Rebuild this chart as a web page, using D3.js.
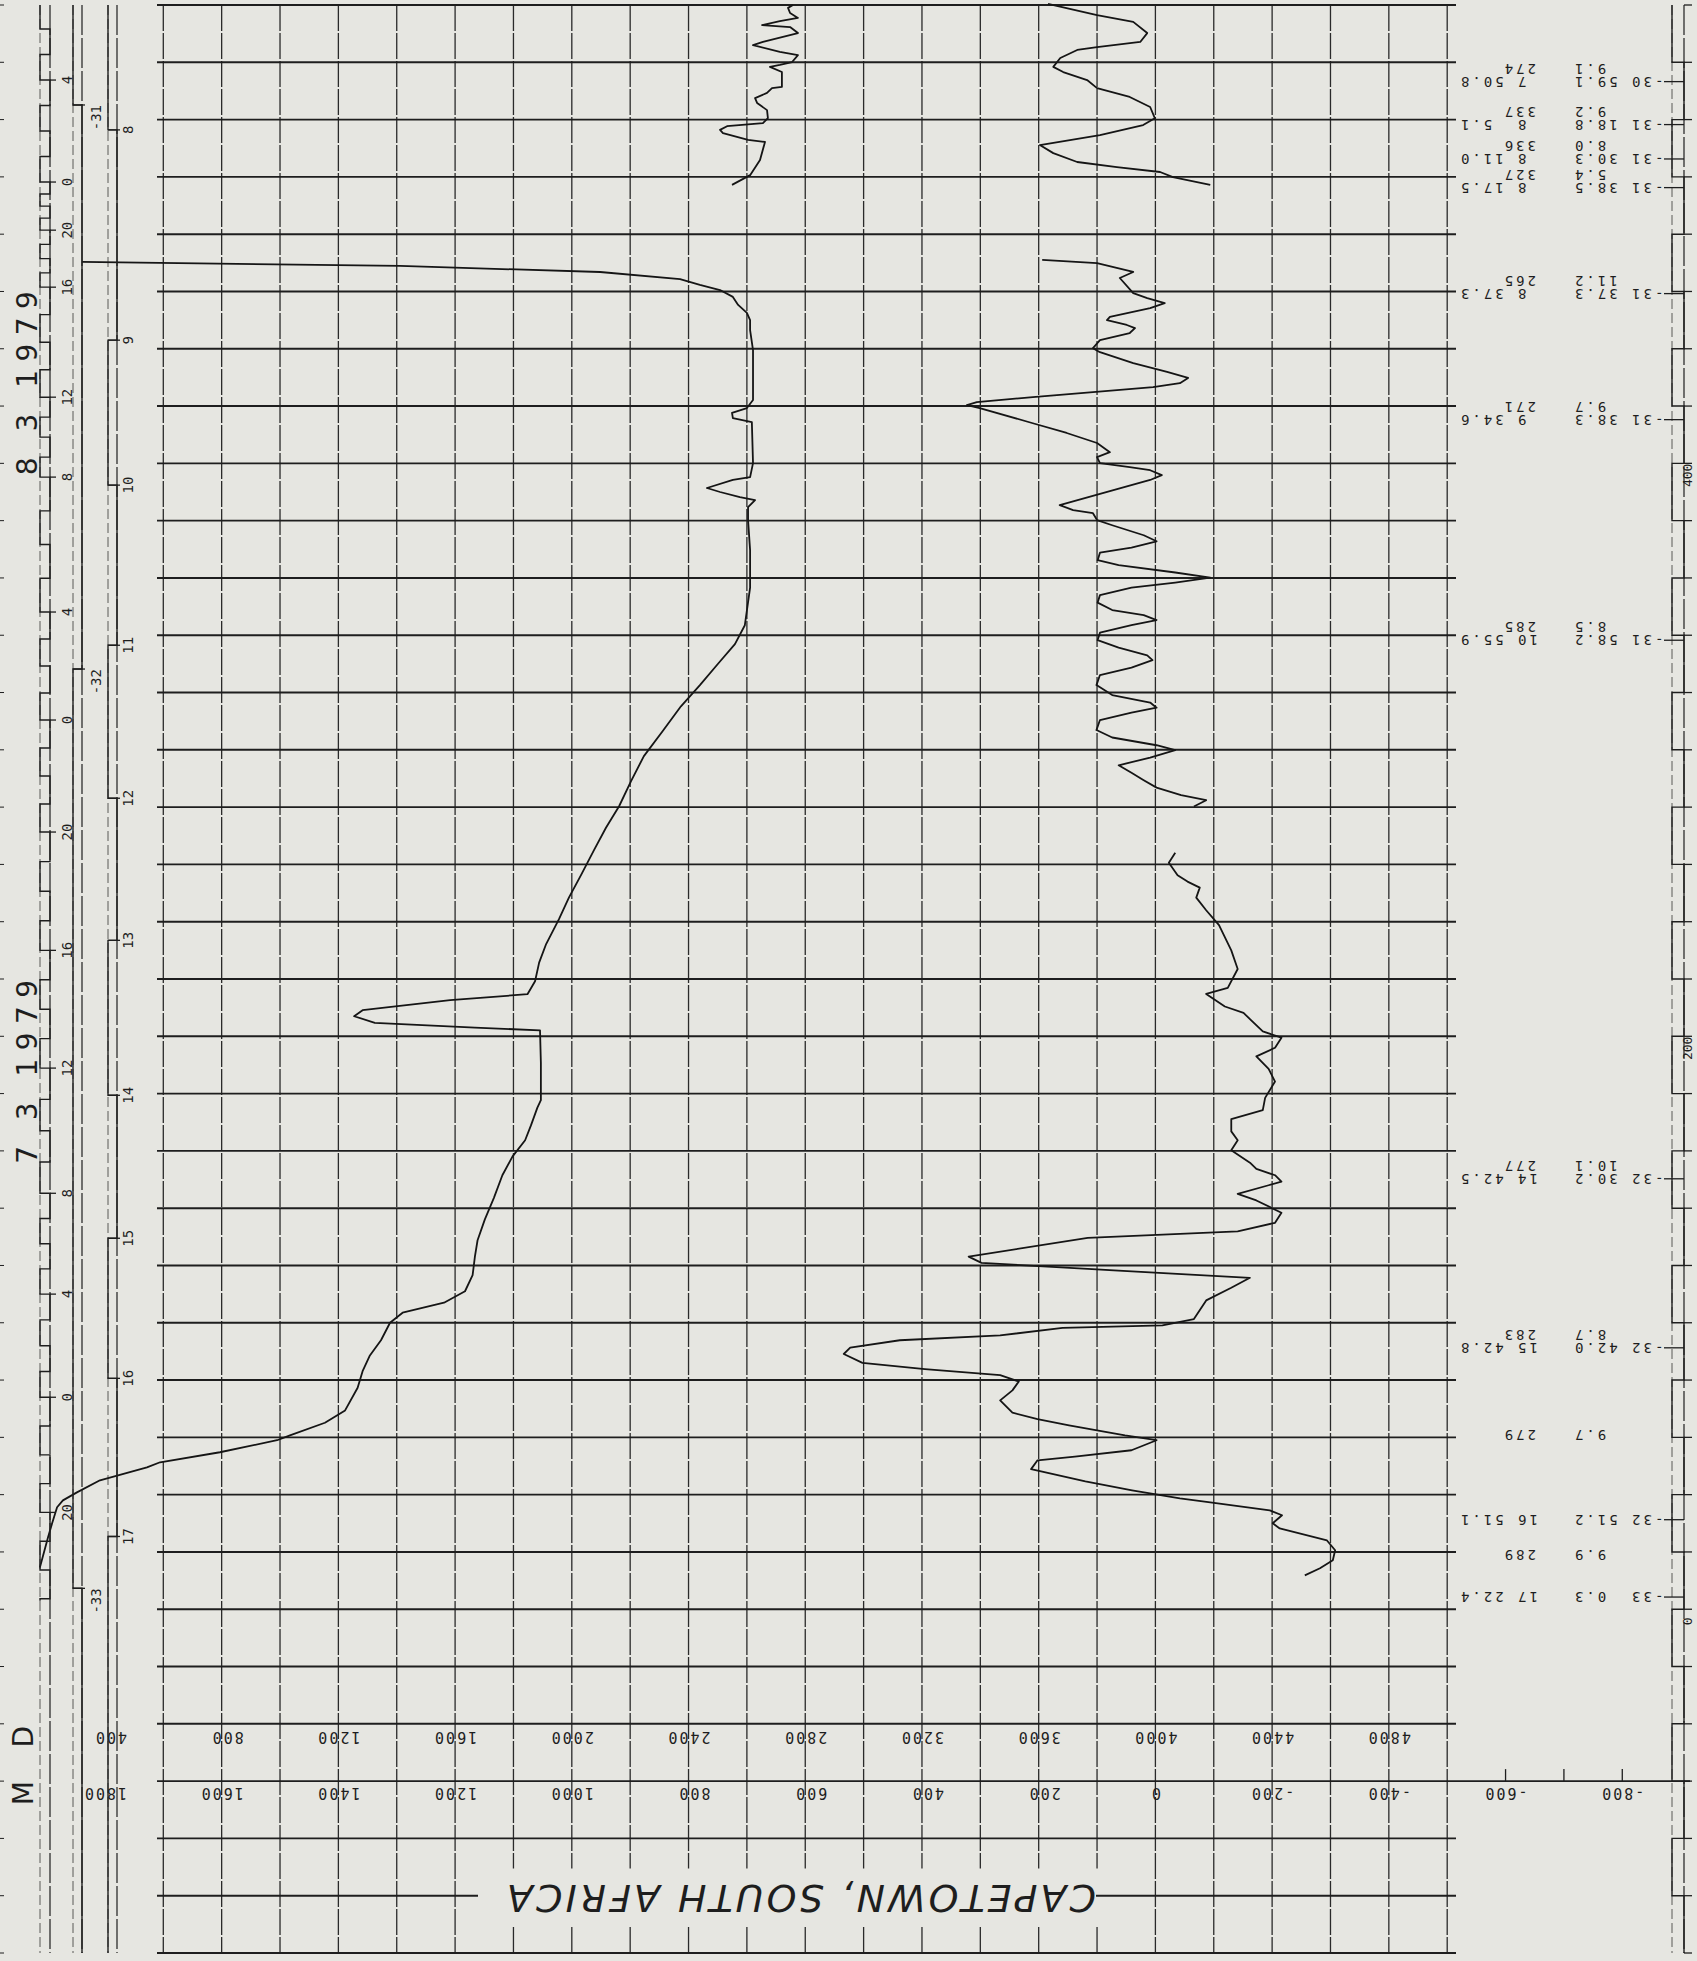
<!DOCTYPE html>
<html>
<head>
<meta charset="utf-8">
<script src="https://cdn.jsdelivr.net/npm/d3@7"></script>
<style>
body{margin:0;background:#e6e6e1;}
svg{display:block;}
text{fill:#1e1e1e;}
</style>
</head>
<body>
<script>
"use strict";

//track distance along the ship track, one grid row = 20
var trackRows = d3.range(560, -121, -20);
var depthTicks = d3.range(600, 5001, 200);
var depthLabels = [400, 800, 1200, 1600, 2000, 2400, 2800, 3200, 3600, 4000, 4400, 4800];
var magLabels = [1800, 1600, 1400, 1200, 1000, 800, 600, 400, 200, 0, -200, -400, -600, -800];
var rulerLabels = [400, 200, 0];

//left strip axes: labels and the track position they sit at
var clockLabels = [4, 0, 20, 16, 12, 8, 4, 0, 20, 16, 12, 8, 4, 0, 20];
var clockTrack = [533.8, 498.2, 481.4, 461.5, 423.1, 395.2, 348.1, 310.4, 271.3, 230.0, 188.9, 145.2, 110.0, 74.0, 33.8];
var hourLabels = [8, 9, 10, 11, 12, 13, 14, 15, 16, 17];
var hourTrack = [516.4, 443.0, 392.4, 336.5, 283.1, 233.5, 179.4, 129.5, 80.6, 25.4];
var latLabels = [-31, -32, -33];
var latTrack = [525.1, 328.2, 7.3];
var dateLabels = ["8 3 1979", "7 3 1979"];
var dateTrack = [428.0, 187.6];

//annotations on the right of the grid
var annoTrack = [535, 520, 508, 498, 461, 417, 340, 152, 93, 58, 33, 16, 6];
var annoTime = [" 7 50.8", " 8  5.1", " 8 11.0", " 8 17.5", " 8 37.3", " 9 34.6", "10 55.9", "14 42.5", "15 42.8", "", "16 51.1", "", "17 22.4"];
var annoDir = ["274", "337", "336", "327", "265", "271", "285", "277", "283", "279", "", "289", ""];
var annoLat = ["-30 59.1", "-31 18.8", "-31 30.3", "-31 38.5", "-31 37.3", "-31 38.3", "-31 58.2", "-32 30.2", "-32 42.0", "", "-32 51.2", "", "-33  0.3"];
var annoSpeed = ["9.1", "9.2", "8.0", "5.4", "11.2", "9.7", "8.5", "10.1", "8.7", "9.7", "", "9.9", ""];

var title = "CAPETOWN, SOUTH AFRICA";

//depth profile [track, depth]
var depthTop = [[560,2758],[559,2741],[557.2,2748],[555.5,2775],[554.4,2713],[553,2652],[552.3,2748],[550.2,2775],[547.1,2655],[546,2621],[543.6,2713],[542.5,2775],[540.1,2755],[539.1,2713],[538.4,2679],[536.6,2720],[531.4,2720],[531,2686],[529.3,2669],[527.5,2628],[525.8,2635],[523.3,2669],[520.5,2672],[518.8,2655],[517.7,2532],[516.4,2508],[515.3,2518],[512.9,2604],[512.2,2662],[505.9,2645],[500.6,2611],[497.2,2549]];
var depthMain = [[470.3,321],[468.9,1411],[466.8,2097],[464.3,2371],[462.3,2439],[460.5,2508],[458.1,2552],[455.3,2570],[452.5,2600],[450,2611],[446.5,2611],[439.5,2621],[422.1,2621],[419.3,2600],[417.6,2549],[415.8,2552],[414.4,2617],[400.1,2621],[395.2,2611],[394.2,2552],[391.4,2463],[390,2508],[388.2,2576],[387.2,2628],[384.7,2604],[380.2,2604],[369.7,2611],[356.6,2611],[343.5,2593],[336.9,2559],[330.4,2504],[322.6,2439],[315.2,2374],[306.5,2311],[297.8,2247],[289.1,2203],[280.3,2162],[272.8,2117],[265,2076],[256.2,2031],[248.4,1990],[240.9,1956],[232.2,1912],[225.7,1888],[219.2,1874],[214.7,1848],[212.6,1583],[209.1,1283],[207,1254],[204.7,1325],[203,1668],[202.1,1891],[190.7,1894],[177.7,1894],[175.1,1882],[168.9,1860],[163.7,1840],[158.1,1797],[151.5,1762],[143.6,1733],[136.1,1702],[128.8,1677],[123.2,1668],[116.6,1660],[111,1634],[107,1562],[103.5,1420],[100,1377],[93.9,1346],[88.6,1308],[83.1,1283],[77.3,1266],[69.4,1223],[65.1,1154],[60.7,1034],[59,990],[54.8,794],[51.3,589],[49.5,544],[45,383],[40.8,304],[38,256],[35.6,236],[30,219],[25.1,205],[14.6,177]];

//magnetic profile [track, anomaly]
var magTop = [[560.4,184],[556.5,100],[554.1,38],[550.2,14],[547.1,26],[545.3,100],[544.3,134],[541.5,163],[538.4,175],[536.6,158],[533.8,117],[531,100],[527.9,44],[524.4,9],[520.5,1],[518.1,21],[514.6,95],[511.1,198],[508.3,175],[505.2,134],[503.4,66],[501.7,-8],[499.9,-30],[497.2,-94]];
var magMid = [[471,194],[469.9,100],[466.8,38],[464.7,61],[459.4,38],[457.7,14],[455.9,-16],[454.2,9],[451.1,78],[450,83],[448.3,49],[447.2,35],[445.5,44],[443,95],[440.2,107],[438.8,95],[435,38],[431.9,-20],[429.8,-56],[428,-42],[426.6,4],[423.1,210],[421.4,306],[420.3,323],[419.3,301],[414,210],[410.6,152],[407.1,100],[403.9,78],[402.2,100],[400.1,95],[398.7,44],[397.6,9],[395.9,-11],[394.2,9],[385.4,164],[383.7,141],[382.6,107],[380.2,100],[378.4,74],[374.9,20],[372.8,-2],[370.6,41],[368.8,95],[366.2,99],[364.5,63],[361.9,-34],[360.1,-94],[358.4,-34],[356.6,41],[354,95],[351.4,99],[348.8,74],[347,20],[345.3,-2],[343.5,41],[340.9,95],[338.3,99],[335.7,63],[333,14],[331.3,5],[328.7,41],[326.1,95],[322.6,101],[319.1,74],[316.5,9],[314.7,-2],[313,41],[310.4,95],[306.9,101],[304.3,74],[301.6,-2],[299.9,-34],[297.3,9],[294.6,63],[292,41],[289.4,20],[286.8,-2],[284.2,-44],[282.4,-87],[280.2,-66]];
var magLow = [[264.1,-34],[260.6,-23],[256.2,-38],[254,-55],[251.9,-76],[248.4,-70],[244,-87],[238.8,-109],[230,-130],[223.5,-141],[216.9,-124],[214.8,-87],[210.4,-119],[208.2,-151],[206,-162],[201.7,-184],[199.5,-216],[196,-205],[193,-173],[188.6,-194],[184.2,-205],[178.5,-188],[174.2,-184],[171.1,-130],[166.8,-130],[163.7,-141],[160.2,-130],[155.9,-162],[153.7,-173],[151.5,-205],[149.3,-216],[148,-194],[145,-141],[142.7,-173],[138.4,-216],[134.9,-205],[131.9,-141],[129.6,116],[123.1,320],[120.9,298],[118.8,116],[116.6,-76],[115.7,-162],[112.2,-130],[107.8,-87],[101.3,-66],[99.1,-12],[98.2,159],[95.6,266],[93.9,438],[91.3,523],[89.1,534],[86,502],[83.8,395],[81.7,266],[79.5,234],[76.4,245],[72.9,266],[68.6,245],[66.4,202],[64.2,148],[60.7,52],[59,-2],[55.5,41],[53.3,138],[52,202],[48.9,213],[44.6,120],[41.5,40],[38.7,-42],[37.3,-94],[34.5,-196],[32.8,-217],[30,-201],[28.2,-213],[24,-294],[20.6,-308],[17.1,-304],[14.3,-282],[11.8,-256]];

var width = 1697, height = 1961;
var ink = "#1e1e1e";
var mono = "DejaVu Sans Mono, monospace";

var svg = d3.select("body").append("svg")
	.attr("width", width)
	.attr("height", height);

svg.append("rect")
	.attr("width", width)
	.attr("height", height)
	.attr("fill", "#e6e6e1");

var y = d3.scaleLinear().domain([560, -120]).range([5, 1953]);
var xDepth = d3.scaleLinear().domain([600, 5000]).range([163.3, 1447.2]);
var xMag = d3.scaleLinear().domain([1700, -500]).range([163.3, 1447.2]);

var gridLeft = 157, gridRight = 1456;
var titleRowTop = y(-80), titleRowBottom = y(-120);

//text turned upside down, the way the plotter wrote it
function flipText(g, x, yTop, str, anchor, size, spacing){
	return g.append("text")
		.attr("transform", "translate(" + x + "," + yTop + ") rotate(180)")
		.attr("text-anchor", anchor)
		.style("font-family", mono)
		.style("font-size", size + "px")
		.style("letter-spacing", spacing + "px")
		.style("white-space", "pre")
		.text(str);
}

//text turned to read upward
function upText(g, x, yMid, str, anchor, size){
	return g.append("text")
		.attr("transform", "translate(" + x + "," + yMid + ") rotate(-90)")
		.attr("text-anchor", anchor)
		.style("font-family", mono)
		.style("font-size", size + "px")
		.text(str);
}

//the grid
var grid = svg.append("g");

depthTicks.forEach(function(v){
	var x = xDepth(v);
	var segs = (x > 490 && x < 1100) ? [[y(560), titleRowTop + 30], [titleRowBottom - 26, y(-120)]] : [[y(560), y(-120)]];
	segs.forEach(function(s){
		grid.append("line")
			.attr("x1", x).attr("x2", x)
			.attr("y1", s[0]).attr("y2", s[1])
			.style("stroke", "#2a2a2a")
			.style("stroke-width", "1.3px")
			.style("stroke-dasharray", "26,2");
	});
});

trackRows.forEach(function(d){
	var segs = d === -100 ? [[gridLeft, 478], [1096, gridRight]] : [[gridLeft, gridRight]];
	segs.forEach(function(s){
		grid.append("line")
			.attr("x1", s[0]).attr("x2", s[1])
			.attr("y1", y(d)).attr("y2", y(d))
			.style("stroke", ink)
			.style("stroke-width", "1.9px");
	});
});

//axis line of the magnetic scale continues to the right with ticks
grid.append("line")
	.attr("x1", gridRight).attr("x2", 1690)
	.attr("y1", y(-60)).attr("y2", y(-60))
	.style("stroke", ink).style("stroke-width", "1.9px");
[-600, -700, -800].forEach(function(v){
	grid.append("line")
		.attr("x1", xMag(v)).attr("x2", xMag(v))
		.attr("y1", y(-60)).attr("y2", y(-60) - 12)
		.style("stroke", ink).style("stroke-width", "1.3px");
});

//scale labels
var labels = svg.append("g");
depthLabels.forEach(function(v){
	var s = String(v);
	flipText(labels, xDepth(v) + (s.length === 3 ? 5.5 : 0), y(-40) + 8, s, "middle", 15, 2);
});
magLabels.forEach(function(v){
	var s = String(v);
	flipText(labels, xMag(v) + (s.length === 3 ? 5.5 : 0), y(-60) + 7, s, "middle", 15, 2);
});

//title
labels.append("text")
	.attr("transform", "translate(801.5," + (y(-100) - 11) + ") rotate(180)")
	.attr("text-anchor", "middle")
	.attr("textLength", 589)
	.attr("lengthAdjust", "spacing")
	.style("font-family", "DejaVu Sans, sans-serif")
	.style("font-style", "italic")
	.style("font-size", "38px")
	.text(title);

//profiles
var depthLine = d3.line()
	.x(function(d){ return xDepth(d[1]); })
	.y(function(d){ return y(d[0]); });
var magLine = d3.line()
	.x(function(d){ return xMag(d[1]); })
	.y(function(d){ return y(d[0]); });

var curves = svg.append("g")
	.style("fill", "none")
	.style("stroke", "#151515")
	.style("stroke-width", "1.8px")
	.style("stroke-linejoin", "round");
[depthTop, depthMain].forEach(function(seg){ curves.append("path").attr("d", depthLine(seg)); });
[magTop, magMid, magLow].forEach(function(seg){ curves.append("path").attr("d", magLine(seg)); });

//left strip
var strip = svg.append("g").style("stroke", ink).style("fill", "none");

trackRows.forEach(function(d){
	strip.append("line").attr("x1", 0).attr("x2", 4).attr("y1", y(d)).attr("y2", y(d)).style("stroke-width", "1px");
});

//draws two rails with a square wave between them that switches side at every tick
function rails(g, xa, xb, ticks, yEnd){
	g.append("line").attr("x1", xa).attr("x2", xa).attr("y1", y(560)).attr("y2", y(-120))
		.style("stroke-width", "1px").style("stroke-dasharray", "10,4").style("opacity", 0.7);
	g.append("line").attr("x1", xb).attr("x2", xb).attr("y1", y(560)).attr("y2", y(-120))
		.style("stroke-width", "1.2px").style("stroke-dasharray", "30,3");
	var side = xa, path = "M" + xa + "," + y(560);
	ticks.forEach(function(t){
		var ty = y(t);
		path += "L" + side + "," + ty;
		side = side === xa ? xb : xa;
		path += "L" + side + "," + ty;
	});
	path += "L" + side + "," + (yEnd === undefined ? y(-120) : yEnd);
	g.append("path").attr("d", path).style("stroke-width", "1.4px");
}

//hourly ticks on the outer clock ruler, four per labelled step
var clockHours = [];
clockHours.push(clockTrack[0] + 2 * (clockTrack[0] - clockTrack[1]) / 4);
clockHours.push(clockTrack[0] + (clockTrack[0] - clockTrack[1]) / 4);
clockTrack.forEach(function(t, i){
	clockHours.push(t);
	if(i < clockTrack.length - 1){
		for(var k = 1; k < 4; k++) clockHours.push(t + (clockTrack[i + 1] - t) * k / 4);
	}
});
var lastStep = (clockTrack[clockTrack.length - 2] - clockTrack[clockTrack.length - 1]) / 4;
for(var k = 1; k <= 3; k++) clockHours.push(clockTrack[clockTrack.length - 1] - lastStep * k);

rails(strip, 40, 50, clockHours, y(3));
rails(strip, 73, 82, latTrack);
rails(strip, 108, 117, hourTrack);

clockTrack.forEach(function(t, i){
	strip.append("line").attr("x1", 50).attr("x2", 56).attr("y1", y(t)).attr("y2", y(t)).style("stroke-width", "1.3px");
	upText(labels, 72, y(t), String(clockLabels[i]), "middle", 14);
});
latTrack.forEach(function(t, i){
	strip.append("line").attr("x1", 73).attr("x2", 85).attr("y1", y(t)).attr("y2", y(t)).style("stroke-width", "1.3px");
	upText(labels, 101, y(t), String(latLabels[i]), "end", 14);
});
hourTrack.forEach(function(t, i){
	strip.append("line").attr("x1", 108).attr("x2", 120).attr("y1", y(t)).attr("y2", y(t)).style("stroke-width", "1.3px");
	upText(labels, 133, y(t), String(hourLabels[i]), "middle", 14);
});

dateLabels.forEach(function(s, i){
	labels.append("text")
		.attr("transform", "translate(37," + y(dateTrack[i]) + ") rotate(-90)")
		.attr("text-anchor", "middle")
		.attr("textLength", 184)
		.attr("lengthAdjust", "spacing")
		.style("font-family", "DejaVu Sans, sans-serif")
		.style("font-size", "28px")
		.text(s);
});
//scale names for the two label rows
[["D", y(-40) + 13], ["M", y(-60) + 12]].forEach(function(p){
	labels.append("text")
		.attr("transform", "translate(33," + p[1] + ") rotate(-90)")
		.attr("text-anchor", "middle")
		.style("font-family", "DejaVu Sans, sans-serif")
		.style("font-size", "28px")
		.text(p[0]);
});

//right ruler, boxed like the clock ruler, switching at every grid row
var ruler = svg.append("g").style("stroke", ink).style("fill", "none");
rails(ruler, 1672, 1684, trackRows.slice(1, -1));
trackRows.forEach(function(d){
	ruler.append("line").attr("x1", 1684).attr("x2", 1692).attr("y1", y(d)).attr("y2", y(d)).style("stroke-width", "1.3px");
});
rulerLabels.forEach(function(v){
	upText(labels, 1692, y(v) + 12, String(v), "middle", 13);
});

//annotation blocks
var notes = svg.append("g");
annoTrack.forEach(function(t, i){
	var ty = y(t);
	if(annoTime[i]) flipText(notes, 1538, ty, annoTime[i], "start", 14, 3);
	if(annoDir[i]) flipText(notes, 1536, ty - 13, annoDir[i], "start", 14, 3);
	if(annoLat[i]){
		flipText(notes, 1572, ty, annoLat[i], "end", 14, 3);
		ruler.append("line").attr("x1", 1664).attr("x2", 1684).attr("y1", ty + 5).attr("y2", ty + 5).style("stroke-width", "1.3px");
	}
	if(annoSpeed[i]) flipText(notes, 1572, ty - 13, annoSpeed[i], "end", 14, 3);
});
</script>
</body>
</html>
